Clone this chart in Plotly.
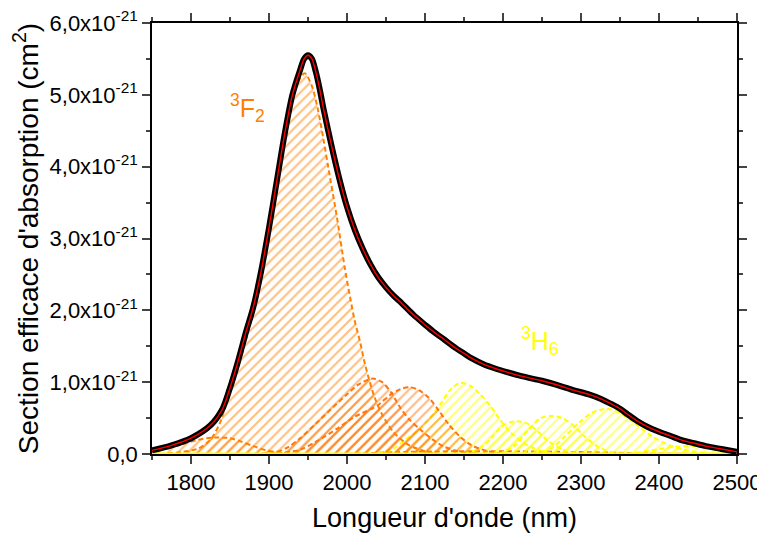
import plotly.graph_objects as go

SCALE = 1e-21  # values below are given in units of 1e-21 cm2

ORANGE = "#FF8000"
ORANGE2 = "#FF7410"
YELLOW = "#FFFF00"
FONT = "Liberation Sans, Arial, sans-serif"

# measured absorption cross-section (black) and fit (red)
wl_total = [1750, 1775, 1800, 1825, 1840, 1850, 1860, 1870, 1880, 1890, 1900, 1910,
            1920, 1930, 1940, 1945, 1950, 1955, 1960, 1965, 1970, 1980, 1990, 2000,
            2010, 2020, 2030, 2040, 2050, 2060, 2070, 2085, 2100, 2110, 2125, 2140,
            2150, 2160, 2175, 2190, 2205, 2225, 2250, 2270, 2290, 2310, 2325, 2340,
            2350, 2360, 2372, 2385, 2400, 2415, 2430, 2445, 2460, 2480, 2500]
sig_total = [0.05, 0.12, 0.22, 0.40, 0.62, 0.92, 1.28, 1.68, 2.05, 2.55, 3.15, 3.80,
             4.45, 5.00, 5.35, 5.50, 5.55, 5.50, 5.32, 5.08, 4.80, 4.30, 3.84, 3.44,
             3.12, 2.86, 2.64, 2.46, 2.32, 2.20, 2.10, 1.94, 1.80, 1.71, 1.59, 1.47,
             1.40, 1.33, 1.25, 1.19, 1.14, 1.08, 1.02, 0.96, 0.89, 0.83, 0.77, 0.69,
             0.63, 0.55, 0.46, 0.38, 0.31, 0.25, 0.19, 0.15, 0.11, 0.07, 0.03]

# individual fitted bands
wl_c1 = [1750, 1770, 1790, 1810, 1830, 1850, 1865, 1880, 1897, 1915, 1940]
sig_c1 = [0.03, 0.08, 0.14, 0.20, 0.23, 0.22, 0.17, 0.11, 0.05, 0.02, 0.0]

wl_c2 = [1760, 1790, 1810, 1825, 1837, 1850, 1863, 1872, 1880, 1890, 1900, 1910,
         1920, 1930, 1938, 1946, 1955, 1962, 1970, 1976, 1987, 1997, 2004, 2010,
         2017, 2022, 2028, 2035, 2045, 2060, 2080, 2100, 2120]
sig_c2 = [0.0, 0.03, 0.08, 0.20, 0.43, 0.88, 1.30, 1.65, 2.00, 2.50, 3.10, 3.75,
          4.40, 4.95, 5.20, 5.30, 5.12, 4.83, 4.37, 3.99, 3.30, 2.60, 2.18, 1.85,
          1.55, 1.30, 1.05, 0.80, 0.55, 0.30, 0.12, 0.04, 0.0]

wl_c3 = [1880, 1910, 1925, 1940, 1960, 1980, 2000, 2015, 2033, 2045, 2057, 2068,
         2080, 2095, 2110, 2125, 2145, 2170]
sig_c3 = [0.0, 0.03, 0.10, 0.22, 0.42, 0.63, 0.83, 0.97, 1.05, 1.00, 0.85, 0.65,
          0.48, 0.33, 0.20, 0.10, 0.03, 0.0]

wl_c4 = [1900, 1920, 1940, 1960, 1987, 2010, 2030, 2042, 2055, 2068, 2080, 2092,
         2105, 2118, 2130, 2145, 2160, 2180, 2200]
sig_c4 = [0.0, 0.02, 0.06, 0.17, 0.35, 0.52, 0.62, 0.70, 0.82, 0.90, 0.93, 0.89,
          0.78, 0.60, 0.42, 0.24, 0.12, 0.04, 0.0]

wl_c5 = [2040, 2060, 2075, 2090, 2105, 2120, 2133, 2145, 2158, 2170, 2183, 2196,
         2210, 2230, 2250, 2275]
sig_c5 = [0.0, 0.08, 0.20, 0.32, 0.48, 0.70, 0.90, 0.99, 0.95, 0.84, 0.68, 0.48,
          0.30, 0.13, 0.04, 0.0]

wl_c6 = [2150, 2170, 2185, 2198, 2212, 2228, 2242, 2258, 2275, 2295]
sig_c6 = [0.0, 0.08, 0.22, 0.38, 0.45, 0.44, 0.34, 0.18, 0.07, 0.0]

wl_c7 = [2195, 2215, 2232, 2248, 2262, 2276, 2290, 2305, 2322, 2340, 2355]
sig_c7 = [0.0, 0.12, 0.33, 0.50, 0.53, 0.50, 0.40, 0.24, 0.10, 0.02, 0.0]

wl_c8 = [2240, 2262, 2280, 2298, 2315, 2333, 2350, 2362, 2372, 2392, 2414, 2436,
         2460, 2480]
sig_c8 = [0.0, 0.08, 0.25, 0.44, 0.58, 0.63, 0.57, 0.48, 0.40, 0.24, 0.12, 0.05,
          0.01, 0.0]

wl_c9 = [2360, 2390, 2420, 2445, 2470, 2500]
sig_c9 = [0.0, 0.05, 0.10, 0.11, 0.08, 0.04]

wl_c10 = [2000, 2080, 2180, 2280, 2380, 2450]
sig_c10 = [0.0, 0.03, 0.04, 0.03, 0.01, 0.0]

wl_base = [1750, 2500]
sig_base = [0.0, 0.0]

x_ticks = [1800, 1900, 2000, 2100, 2200, 2300, 2400, 2500]
y_ticks = [0, 1, 2, 3, 4, 5, 6]
y_ticktext = ["0,0"] + [f"{v},0x10<sup>-21</sup>" for v in y_ticks[1:]]

components = [
    (wl_c10, sig_c10, ORANGE2),
    (wl_c9, sig_c9, YELLOW),
    (wl_c8, sig_c8, YELLOW),
    (wl_c7, sig_c7, YELLOW),
    (wl_c6, sig_c6, YELLOW),
    (wl_c5, sig_c5, YELLOW),
    (wl_c4, sig_c4, ORANGE2),
    (wl_c3, sig_c3, ORANGE2),
    (wl_c1, sig_c1, ORANGE),
    (wl_c2, sig_c2, ORANGE),
]


def sc(vals):
    return [v * SCALE for v in vals]


fig = go.Figure()

for wl, sig, col in components:
    fig.add_trace(go.Scatter(
        x=wl, y=sc(sig), mode="lines",
        line=dict(color=col, width=2, dash="5px,3px", shape="spline", smoothing=0.8),
        fill="tozeroy", fillcolor="rgba(0,0,0,0)",
        fillpattern=dict(shape="/", fgcolor=col, bgcolor="rgba(0,0,0,0)",
                         size=7, solidity=0.3, fillmode="overlay"),
        hoverinfo="skip", showlegend=False,
    ))

fig.add_trace(go.Scatter(x=wl_base, y=sc(sig_base), mode="lines",
                         line=dict(color=YELLOW, width=3), hoverinfo="skip", showlegend=False))

fig.add_trace(go.Scatter(x=wl_total, y=sc(sig_total), mode="lines",
                         line=dict(color="black", width=6, shape="spline", smoothing=0.8),
                         showlegend=False))
fig.add_trace(go.Scatter(x=wl_total, y=sc(sig_total), mode="lines",
                         line=dict(color="#FF0000", width=1.4, shape="spline", smoothing=0.8),
                         showlegend=False))

fig.add_annotation(x=1872, y=4.81 * SCALE, text="<sup>3</sup>F<sub>2</sub>", showarrow=False,
                   font=dict(size=25, color=ORANGE, family=FONT))
fig.add_annotation(x=2247, y=1.57 * SCALE, text="<sup>3</sup>H<sub>6</sub>", showarrow=False,
                   font=dict(size=25, color=YELLOW, family=FONT))

# the page body has an 8px margin, so the figure is 8px smaller than the window
fig.update_layout(
    width=757, height=527,
    paper_bgcolor="white", plot_bgcolor="white",
    font=dict(family=FONT, size=22, color="black"),
    margin=dict(l=144, r=28, t=15, b=81),
    showlegend=False,
)
fig.update_xaxes(
    range=[1750, 2500], tickvals=x_ticks, ticks="outside", ticklen=8, tickwidth=1.5,
    minor=dict(dtick=50, tick0=1750, ticks="outside", ticklen=4, tickwidth=1.5),
    showline=True, linecolor="black", linewidth=1.5, mirror="ticks", showgrid=False,
    zeroline=False, tickfont=dict(size=22), automargin=False, ticklabeloverflow="allow",
    title=dict(text="Longueur d'onde (nm)", font=dict(size=27), standoff=14),
)
fig.update_yaxes(
    range=[0, 6 * SCALE], tickvals=sc(y_ticks), ticktext=y_ticktext,
    ticks="outside", ticklen=8, tickwidth=1.5,
    minor=dict(dtick=0.5 * SCALE, tick0=0, ticks="outside", ticklen=4, tickwidth=1.5),
    showline=True, linecolor="black", linewidth=1.5, mirror="ticks", showgrid=False,
    zeroline=False, tickfont=dict(size=22), automargin=False, ticklabeloverflow="allow",
    title=dict(text="Section efficace d'absorption (cm<sup>2</sup>)", font=dict(size=28), standoff=10),
)

fig.write_html("out.html")
